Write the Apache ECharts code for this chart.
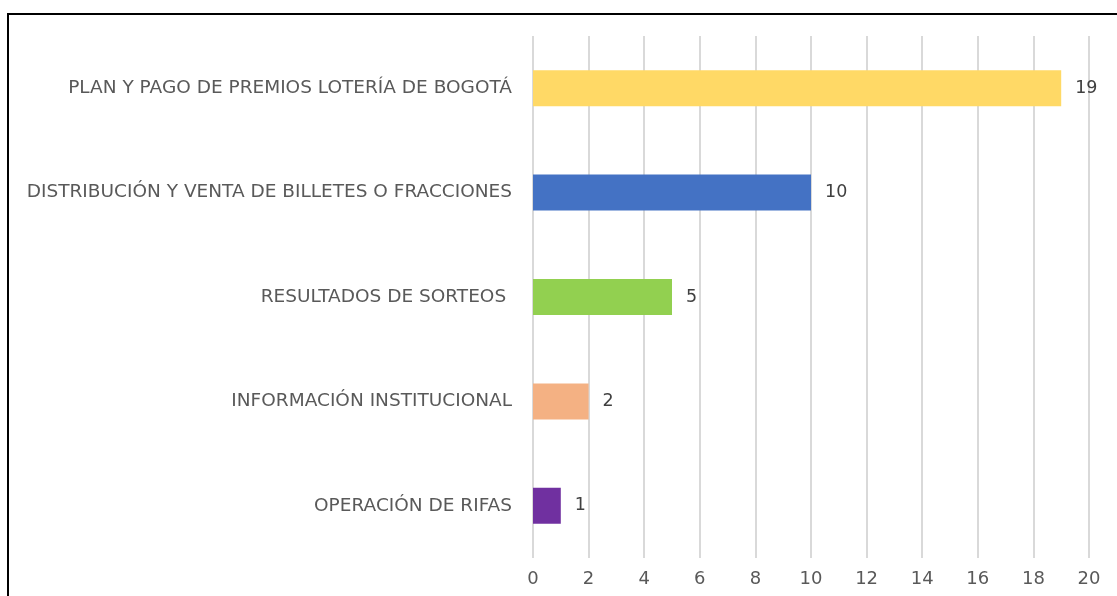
<!DOCTYPE html>
<html>
<head>
<meta charset="utf-8">
<script src="https://cdn.jsdelivr.net/npm/echarts@6/dist/echarts.min.js"></script>
<style>
  html, body { margin: 0; padding: 0; background: #fff; }
  #chart { width: 1117px; height: 596px; }
</style>
</head>
<body>
<div id="chart"></div>
<script>
// categories from bottom to top (category axis on y goes upward)
var categories = [
  'OPERACIÓN DE RIFAS',
  'INFORMACIÓN INSTITUCIONAL',
  'RESULTADOS DE SORTEOS ',
  'DISTRIBUCIÓN Y VENTA DE BILLETES O FRACCIONES',
  'PLAN Y PAGO DE PREMIOS LOTERÍA DE BOGOTÁ'
]
var values = [1, 2, 5, 10, 19]
var barColors = ['#7030A0', '#F4B183', '#92D050', '#4472C4', '#FFD966']

var font = 'DejaVu Sans'
var chart = echarts.init(document.getElementById('chart'))
chart.setOption({
  animation: false,
  grid: { left: 533, right: 28, top: 36, bottom: 38 },
  xAxis: {
    type: 'value',
    min: 0,
    max: 20,
    interval: 2,
    axisLine: { show: false },
    axisTick: { show: false },
    axisLabel: { color: '#595959', fontSize: 18, fontFamily: font, margin: 12 },
    splitLine: { show: true, lineStyle: { color: '#d9d9d9', width: 2 } }
  },
  yAxis: {
    type: 'category',
    data: categories,
    axisLine: { show: false },
    axisTick: { show: false },
    axisLabel: { color: '#595959', fontSize: 18.5, fontFamily: font, margin: 21 }
  },
  series: [{
    type: 'bar',
    barWidth: '34.5%',
    data: values.map(function (v, i) {
      return { value: v, itemStyle: { color: barColors[i] } }
    }),
    label: {
      show: true,
      position: 'right',
      distance: 14,
      color: '#404040',
      fontSize: 17.5,
      fontFamily: font
    }
  }],
  graphic: [
    { type: 'line', shape: { x1: 7, y1: 14, x2: 1117, y2: 14 }, style: { stroke: '#000', lineWidth: 2 } },
    { type: 'line', shape: { x1: 8, y1: 14, x2: 8, y2: 596 }, style: { stroke: '#000', lineWidth: 2 } }
  ]
})
</script>
</body>
</html>
